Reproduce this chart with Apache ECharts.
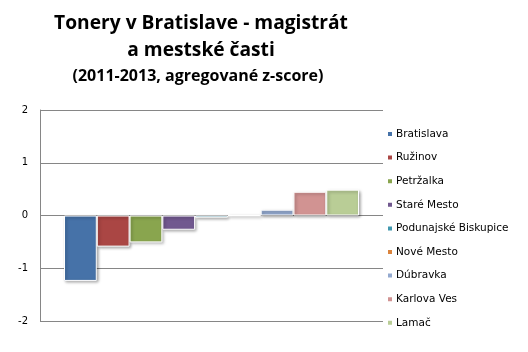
<!DOCTYPE html>
<html>
<head>
<meta charset="utf-8">
<script src="https://cdn.jsdelivr.net/npm/echarts@6/dist/echarts.min.js"></script>
<style>
	html, body { margin: 0; padding: 0; background: #fff; }
	#main { width: 528px; height: 352px; }
</style>
</head>
<body>
<div id="main"></div>
<script>
// data
var districts = ["Bratislava", "Ružinov", "Petržalka", "Staré Mesto", "Podunajské Biskupice", "Nové Mesto", "Dúbravka", "Karlova Ves", "Lamač"];
var zScores = [-1.24, -0.59, -0.51, -0.27, -0.04, 0.0, 0.11, 0.45, 0.49];
var colors = ["#4672A8", "#AA4644", "#89A54E", "#71588F", "#4198AF", "#DB843D", "#93A9CF", "#D19392", "#B9CD96"];
var yTicks = [-2, -1, 0, 1, 2];

var myChart = echarts.init(document.getElementById("main"));

var series = [];
for(var i = 0; i < districts.length; i++) {
	series.push({
		name: districts[i],
		type: "bar",
		barGap: 0,
		barCategoryGap: "14%",
		itemStyle: {
			color: colors[i],
			borderColor: "#fff",
			borderWidth: 1,
			shadowColor: "rgba(0,0,0,0.35)",
			shadowBlur: 3,
			shadowOffsetX: 1.5,
			shadowOffsetY: 1.5
		},
		data: [zScores[i]]
	});
}

var option = {
	animation: false,
	color: colors,
	title: [{
		text: "Tonery v Bratislave - magistrát\na mestské časti",
		left: 196,
		top: 5,
		textAlign: "center",
		textStyle: {
			fontFamily: "Open Sans",
			fontWeight: "bold",
			fontSize: 19.2,
			lineHeight: 27,
			color: "#000"
		}
	}, {
		text: "(2011-2013, agregované z-score)",
		left: 193,
		top: 63,
		textAlign: "center",
		textStyle: {
			fontFamily: "Open Sans",
			fontWeight: "bold",
			fontSize: 16,
			color: "#000"
		}
	}],
	legend: {
		orient: "vertical",
		left: 381,
		top: 123,
		icon: "rect",
		itemWidth: 6,
		itemHeight: 6,
		itemGap: 11.6,
		textStyle: {
			fontFamily: "DejaVu Sans",
			fontSize: 10.5,
			lineHeight: 12,
			color: "#000",
			padding: [0, 0, 0, -2]
		},
		data: districts
	},
	grid: {
		left: 40,
		right: 145,
		top: 110,
		bottom: 31
	},
	xAxis: {
		type: "category",
		data: [""],
		axisLine: { show: false },
		axisTick: { show: false },
		axisLabel: { show: false }
	},
	yAxis: {
		type: "value",
		min: yTicks[0],
		max: yTicks[yTicks.length - 1],
		interval: 1,
		axisLine: {
			show: true,
			lineStyle: { color: "#868686", width: 1 }
		},
		axisTick: { show: false },
		axisLabel: {
			color: "#000",
			fontFamily: "DejaVu Sans",
			fontSize: 10,
			margin: 12
		},
		splitLine: {
			show: true,
			lineStyle: { color: "#868686", width: 1 }
		}
	},
	series: series
};
myChart.setOption(option);
</script>
</body>
</html>
